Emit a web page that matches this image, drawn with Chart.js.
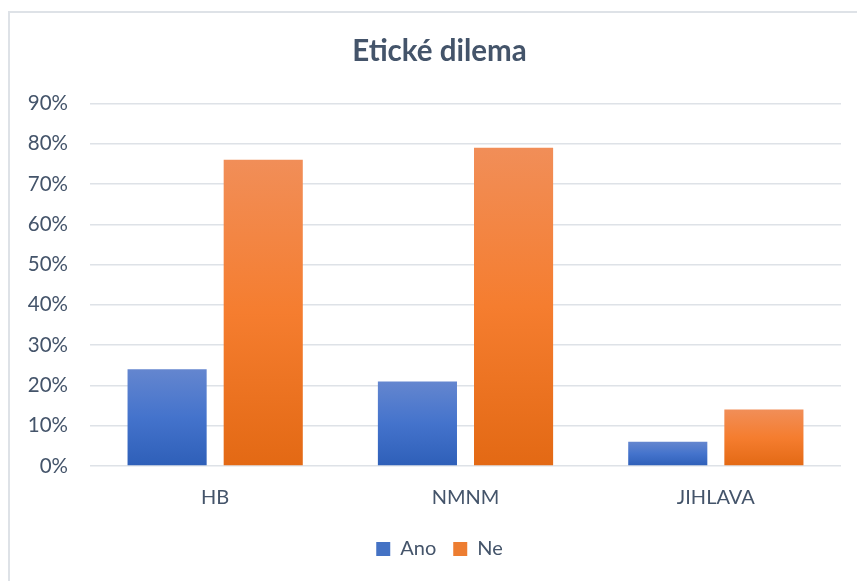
<!DOCTYPE html>
<html>
<head>
<meta charset="utf-8">
<script src="https://cdn.jsdelivr.net/npm/chart.js@4"></script>
<style>
html,body{margin:0;padding:0;background:#fff;overflow:hidden;}
#wrap{position:absolute;left:0;top:0;width:857px;height:581px;overflow:hidden;}
#frame{position:absolute;left:8px;top:11px;width:849px;height:570px;border-left:2px solid #DEE2E7;border-top:2px solid #DEE2E7;box-sizing:border-box;}
canvas{position:absolute;left:0;top:0;}
</style>
</head>
<body>
<div id="wrap"><div id="frame"></div><canvas id="c" width="879" height="581"></canvas></div>
<script>
const categories = ['HB', 'NMNM', 'JIHLAVA'];
const seriesNames = ['Ano', 'Ne'];
const anoValues = [24, 21, 6];
const neValues = [76, 79, 14];
const yTicks = [0, 10, 20, 30, 40, 50, 60, 70, 80, 90];

const textColor = '#44546A';
const fontFamily = 'Lato, "Open Sans", sans-serif';

function grad(ctx, stops) {
  const chart = ctx.chart;
  const area = chart.chartArea;
  const yScale = chart.scales && chart.scales.y;
  if (!area || !yScale || ctx.raw === undefined) return stops[1][1];
  const top = yScale.getPixelForValue(ctx.raw);
  const bottom = yScale.getPixelForValue(0);
  if (!(bottom > top)) return stops[1][1];
  const g = chart.ctx.createLinearGradient(0, top, 0, bottom);
  stops.forEach(s => g.addColorStop(s[0], s[1]));
  return g;
}
const blueStops = [[0, '#6486CF'], [0.5, '#4473CC'], [1, '#2E5FB8']];
const orangeStops = [[0, '#F18E58'], [0.5, '#F57D2F'], [1, '#E36914']];

new Chart(document.getElementById('c'), {
  type: 'bar',
  data: {
    labels: categories,
    datasets: [
      { label: seriesNames[0], data: anoValues, backgroundColor: ctx => grad(ctx, blueStops), borderWidth: 0 },
      { label: seriesNames[1], data: neValues, backgroundColor: ctx => grad(ctx, orangeStops), borderWidth: 0 }
    ]
  },
  options: {
    responsive: false,
    animation: false,
    devicePixelRatio: 1,
    layout: { padding: { left: 0, right: 0, top: 0, bottom: 12 } },
    datasets: { bar: { categoryPercentage: 0.768, barPercentage: 0.823 } },
    plugins: {
      title: {
        display: true,
        text: 'Etické dilema',
        color: textColor,
        font: { family: fontFamily, size: 29.5, weight: 'bold' },
        padding: { top: 34, bottom: 34 }
      },
      legend: {
        position: 'bottom',
        labels: {
          color: textColor,
          font: { family: fontFamily, size: 20 },
          boxWidth: 14, boxHeight: 14,
          padding: 17,
          generateLabels: chart => chart.data.datasets.map((d, i) => ({
            text: d.label,
            fillStyle: i === 0 ? '#4472C4' : '#ED7D31',
            strokeStyle: 'transparent',
            lineWidth: 0,
            datasetIndex: i,
            fontColor: textColor
          }))
        }
      },
      tooltip: { enabled: false }
    },
    scales: {
      x: {
        grid: { display: false },
        border: { display: false },
        ticks: { color: textColor, font: { family: fontFamily, size: 20 }, padding: 12 }
      },
      y: {
        min: 0,
        max: 90,
        afterBuildTicks: axis => { axis.ticks = yTicks.map(v => ({ value: v })); },
        afterFit: axis => { axis.width = 90; },
        grid: { color: '#DEE2E7', lineWidth: 1.5, drawTicks: false },
        border: { display: false },
        ticks: {
          color: textColor,
          font: { family: fontFamily, size: 20.5 },
          padding: 22,
          callback: v => v + '%'
        }
      },
      y2: {
        position: 'right',
        min: 0,
        max: 90,
        grid: { display: false },
        border: { display: false },
        ticks: { display: false },
        afterFit: axis => { axis.width = 38; }
      }
    }
  }
});
</script>
</body>
</html>
